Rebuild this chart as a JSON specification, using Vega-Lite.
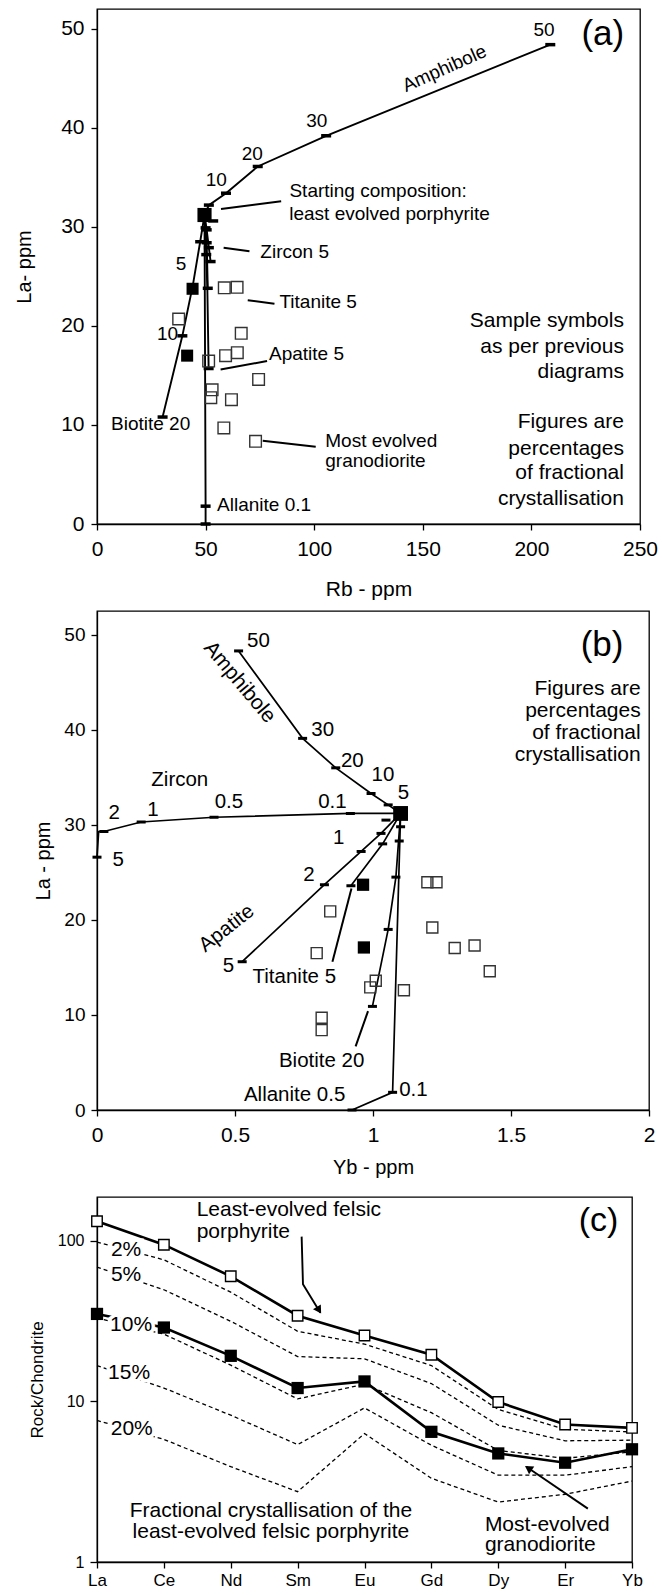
{
"$schema": "https://vega.github.io/schema/vega-lite/v6.json",
"background": "white",
"padding": {"left": 13, "top": 8, "right": 5, "bottom": 2},
"autosize": {"type": "pad"},
"bounds": "flush",
"spacing": 87,
"config": {
 "font": "Liberation Sans",
 "view": {"stroke": "black", "strokeWidth": 1.3},
 "axis": {"grid": false, "domainColor": "black", "tickColor": "black", "labelColor": "black", "titleColor": "black", "titleFontWeight": "normal", "labelFont": "Liberation Sans", "titleFont": "Liberation Sans", "tickSize": 6, "domainWidth": 1.3, "tickWidth": 1.3, "labelOverlap": false},
 "text": {"font": "Liberation Sans", "color": "black"}
},
"datasets": {
 "a_lines": [
  {"m":"amph","o":0,"x":49.5,"y":31.2},{"m":"amph","o":1,"x":51.5,"y":32.2},{"m":"amph","o":2,"x":59.4,"y":33.4},{"m":"amph","o":3,"x":74,"y":36.1},{"m":"amph","o":4,"x":105.5,"y":39.2},{"m":"amph","o":5,"x":208.7,"y":48.4},
  {"m":"biot","o":0,"x":49.5,"y":31.2},{"m":"biot","o":1,"x":47.5,"y":28.5},{"m":"biot","o":2,"x":44.2,"y":24.2},{"m":"biot","o":3,"x":39.3,"y":19.0},{"m":"biot","o":4,"x":30.2,"y":10.8},
  {"m":"zirc","o":0,"x":49.5,"y":31.2},{"m":"zirc","o":1,"x":50.5,"y":29.7},{"m":"zirc","o":2,"x":51.5,"y":27.9},{"m":"zirc","o":3,"x":52.3,"y":26.5},
  {"m":"tita","o":0,"x":49.5,"y":31.2},{"m":"tita","o":1,"x":50.5,"y":28.4},{"m":"tita","o":2,"x":51.0,"y":23.8},
  {"m":"apat","o":0,"x":49.5,"y":31.2},{"m":"apat","o":1,"x":50.3,"y":27.2},{"m":"apat","o":2,"x":50.8,"y":23.8},{"m":"apat","o":3,"x":51.4,"y":15.7},
  {"m":"alla","o":0,"x":49.5,"y":31.2},{"m":"alla","o":1,"x":50,"y":1.8},{"m":"alla","o":2,"x":50,"y":0}
 ],
 "a_ticks": [
  {"x":51.5,"y":32.2},{"x":59.4,"y":33.4},{"x":74,"y":36.1},{"x":105.5,"y":39.2},{"x":208.7,"y":48.4},
  {"x":47.5,"y":28.5},{"x":39.3,"y":19.0},{"x":30.2,"y":10.8},
  {"x":50.5,"y":29.7},{"x":51.5,"y":27.9},{"x":52.3,"y":26.5},
  {"x":50.5,"y":28.4},{"x":51.0,"y":23.8},{"x":50.3,"y":27.2},{"x":51.4,"y":15.7},
  {"x":50,"y":29.9},{"x":50,"y":1.8},{"x":50,"y":0},{"x":53.5,"y":30.6}
 ],
 "a_lead": [
  {"id":"start","o":0,"x":57.1,"y":31.8},{"id":"start","o":1,"x":84.8,"y":32.6},
  {"id":"zirc","o":0,"x":58.3,"y":27.9},{"id":"zirc","o":1,"x":70.2,"y":27.55},
  {"id":"tita","o":0,"x":69.4,"y":22.6},{"id":"tita","o":1,"x":81.7,"y":22.24},
  {"id":"apat","o":0,"x":56.9,"y":15.6},{"id":"apat","o":1,"x":78.3,"y":16.45},
  {"id":"most","o":0,"x":76.3,"y":8.4},{"id":"most","o":1,"x":100.7,"y":7.8}
 ],
 "a_samp": [
  {"t":"open","x":58.6,"y":23.85},{"t":"open","x":64.5,"y":23.9},{"t":"open","x":37.6,"y":20.7},{"t":"open","x":66.4,"y":19.25},
  {"t":"open","x":59.2,"y":17.0},{"t":"open","x":64.6,"y":17.3},{"t":"open","x":51.4,"y":16.45},{"t":"open","x":74.4,"y":14.6},
  {"t":"open","x":53.0,"y":13.55},{"t":"open","x":52.4,"y":12.75},{"t":"open","x":61.9,"y":12.55},{"t":"open","x":58.4,"y":9.7},{"t":"open","x":73.0,"y":8.35},
  {"t":"filled","x":44.0,"y":23.75},{"t":"filled","x":41.5,"y":17.0},
  {"t":"start","x":49.5,"y":31.2}
 ],
 "a_txtL": [
  {"s":"Starting composition:","x":88.6,"y":33.65},
  {"s":"least evolved porphyrite","x":88.5,"y":31.3},
  {"s":"Zircon 5","x":75.2,"y":27.45},
  {"s":"Titanite 5","x":84.0,"y":22.4},
  {"s":"Apatite 5","x":79.2,"y":17.2},
  {"s":"Most evolved","x":105.1,"y":8.4},
  {"s":"granodiorite","x":105.1,"y":6.4},
  {"s":"Allanite 0.1","x":55.3,"y":1.9}
 ],
 "a_txtC": [
  {"s":"10","x":54.9,"y":34.7},{"s":"20","x":71.5,"y":37.4},{"s":"30","x":101.2,"y":40.7},{"s":"50","x":205.8,"y":49.9},
  {"s":"5","x":38.7,"y":26.3},{"s":"10","x":32.5,"y":19.2},{"s":"Biotite 20","x":24.7,"y":10.1}
 ],
 "a_txtR": [
  {"s":"Sample symbols","x":242.6,"y":20.5},{"s":"as per previous","x":242.6,"y":17.9},{"s":"diagrams","x":242.6,"y":15.3},
  {"s":"Figures are","x":242.6,"y":10.3},{"s":"percentages","x":242.6,"y":7.6},{"s":"of fractional","x":242.6,"y":5.1},{"s":"crystallisation","x":242.6,"y":2.5}
 ],
 "a_rot": [{"s":"Amphibole","x":160,"y":46.0}],
 "a_tag": [{"s":"(a)","x":232.9,"y":49.5}],
 "b_lines": [
  {"m":"amph","o":0,"x":1.1,"y":31.2},{"m":"amph","o":1,"x":1.055,"y":32.1},{"m":"amph","o":2,"x":0.993,"y":33.3},{"m":"amph","o":3,"x":0.865,"y":36.0},{"m":"amph","o":4,"x":0.745,"y":39.1},{"m":"amph","o":5,"x":0.513,"y":48.3},
  {"m":"zirc","o":0,"x":1.1,"y":31.2},{"m":"zirc","o":1,"x":0.918,"y":31.2},{"m":"zirc","o":2,"x":0.424,"y":30.8},{"m":"zirc","o":3,"x":0.16,"y":30.3},{"m":"zirc","o":4,"x":0.025,"y":29.3},{"m":"zirc","o":5,"x":0.006,"y":29.3},{"m":"zirc","o":6,"x":0.0,"y":26.6},
  {"m":"apat","o":0,"x":1.1,"y":31.2},{"m":"apat","o":1,"x":1.029,"y":29.1},{"m":"apat","o":2,"x":0.957,"y":27.2},{"m":"apat","o":3,"x":0.824,"y":23.7},{"m":"apat","o":4,"x":0.526,"y":15.6},
  {"m":"tita","o":0,"x":1.1,"y":31.2},{"m":"tita","o":1,"x":1.035,"y":28.0},{"m":"tita","o":2,"x":0.92,"y":23.6},
  {"m":"biot","o":0,"x":1.1,"y":31.2},{"m":"biot","o":1,"x":1.083,"y":24.5},{"m":"biot","o":2,"x":1.055,"y":19.0},{"m":"biot","o":3,"x":0.998,"y":10.9},
  {"m":"alla","o":0,"x":1.1,"y":31.2},{"m":"alla","o":1,"x":1.071,"y":1.86},{"m":"alla","o":2,"x":0.924,"y":0}
 ],
 "b_ticks": [
  {"x":1.055,"y":32.1},{"x":0.993,"y":33.3},{"x":0.865,"y":36.0},{"x":0.745,"y":39.1},{"x":0.513,"y":48.3},
  {"x":0.918,"y":31.2},{"x":0.424,"y":30.8},{"x":0.16,"y":30.3},{"x":0.025,"y":29.3},{"x":0.0,"y":26.6},
  {"x":1.047,"y":30.5},{"x":1.029,"y":29.1},{"x":0.957,"y":27.2},{"x":0.824,"y":23.7},{"x":0.526,"y":15.6},
  {"x":1.035,"y":28.0},{"x":0.92,"y":23.6},
  {"x":1.095,"y":28.3},{"x":1.083,"y":24.5},{"x":1.055,"y":19.0},{"x":0.998,"y":10.9},
  {"x":1.10,"y":29.8},{"x":1.071,"y":1.86},{"x":0.924,"y":0}
 ],
 "b_lead": [
  {"id":"tita","o":0,"x":0.922,"y":23.3},{"id":"tita","o":1,"x":0.853,"y":15.6},
  {"id":"biot","o":0,"x":0.982,"y":10.4},{"id":"biot","o":1,"x":0.937,"y":6.7}
 ],
 "b_samp": [
  {"t":"open","x":0.845,"y":20.9},{"t":"open","x":1.197,"y":23.96},{"t":"open","x":1.23,"y":23.96},{"t":"open","x":1.215,"y":19.2},
  {"t":"open","x":0.796,"y":16.5},{"t":"open","x":1.296,"y":17.05},{"t":"open","x":1.368,"y":17.3},{"t":"open","x":1.423,"y":14.6},
  {"t":"open","x":0.99,"y":12.9},{"t":"open","x":1.01,"y":13.6},{"t":"open","x":1.112,"y":12.6},{"t":"open","x":0.814,"y":9.7},{"t":"open","x":0.814,"y":8.4},
  {"t":"filled","x":0.964,"y":23.7},{"t":"filled","x":0.967,"y":17.1},
  {"t":"start","x":1.1,"y":31.2}
 ],
 "b_txtC": [
  {"s":"Zircon","x":0.30,"y":34.7},{"s":"2","x":0.062,"y":31.3},{"s":"1","x":0.203,"y":31.6},{"s":"0.5","x":0.478,"y":32.4},{"s":"0.1","x":0.853,"y":32.4},
  {"s":"5","x":0.077,"y":26.3},{"s":"5","x":1.11,"y":33.3},{"s":"10","x":1.036,"y":35.2},{"s":"20","x":0.925,"y":36.7},{"s":"30","x":0.818,"y":40.0},{"s":"50","x":0.585,"y":49.3},
  {"s":"1","x":0.876,"y":28.6},{"s":"2","x":0.768,"y":24.7},{"s":"5","x":0.476,"y":15.2},
  {"s":"Titanite 5","x":0.715,"y":14.0},{"s":"Biotite 20","x":0.814,"y":5.2},{"s":"Allanite 0.5","x":0.716,"y":1.58}
 ],
 "b_txtL": [{"s":"0.1","x":1.095,"y":2.1}],
 "b_txtR": [
  {"s":"Figures are","x":1.97,"y":44.3},{"s":"percentages","x":1.97,"y":42.0},{"s":"of fractional","x":1.97,"y":39.7},{"s":"crystallisation","x":1.97,"y":37.4}
 ],
 "b_amph": [{"s":"Amphibole","x":0.516,"y":45.0}],
 "b_apat": [{"s":"Apatite","x":0.47,"y":19.1}],
 "b_tag": [{"s":"(b)","x":1.83,"y":48.9}],
 "c_lines": [
  {"s":"least","el":"La","i":0,"v":132},{"s":"least","el":"Ce","i":1,"v":94.4},{"s":"least","el":"Nd","i":2,"v":60},{"s":"least","el":"Sm","i":3,"v":34.1},{"s":"least","el":"Eu","i":4,"v":25.7},{"s":"least","el":"Gd","i":5,"v":19.5},{"s":"least","el":"Dy","i":6,"v":9.9},{"s":"least","el":"Er","i":7,"v":7.17},{"s":"least","el":"Yb","i":8,"v":6.84},
  {"s":"most","el":"La","i":0,"v":35},{"s":"most","el":"Ce","i":1,"v":28.8},{"s":"most","el":"Nd","i":2,"v":19.2},{"s":"most","el":"Sm","i":3,"v":12.1},{"s":"most","el":"Eu","i":4,"v":13.3},{"s":"most","el":"Gd","i":5,"v":6.46},{"s":"most","el":"Dy","i":6,"v":4.74},{"s":"most","el":"Er","i":7,"v":4.15},{"s":"most","el":"Yb","i":8,"v":5.03}
 ],
 "c_dash": [
  {"s":"2%","i":0,"v":98},{"s":"2%","i":1,"v":76},{"s":"2%","i":2,"v":47.8},{"s":"2%","i":3,"v":27.3},{"s":"2%","i":4,"v":22.7},{"s":"2%","i":5,"v":16.7},{"s":"2%","i":6,"v":8.9},{"s":"2%","i":7,"v":6.7},{"s":"2%","i":8,"v":6.45},
  {"s":"5%","i":0,"v":68.5},{"s":"5%","i":1,"v":49.5},{"s":"5%","i":2,"v":31.5},{"s":"5%","i":3,"v":19.0},{"s":"5%","i":4,"v":18.4},{"s":"5%","i":5,"v":12.9},{"s":"5%","i":6,"v":7.1},{"s":"5%","i":7,"v":5.68},{"s":"5%","i":8,"v":5.73},
  {"s":"10%","i":0,"v":33},{"s":"10%","i":1,"v":26.2},{"s":"10%","i":2,"v":16.8},{"s":"10%","i":3,"v":10.35},{"s":"10%","i":4,"v":12.8},{"s":"10%","i":5,"v":8.5},{"s":"10%","i":6,"v":4.95},{"s":"10%","i":7,"v":4.42},{"s":"10%","i":8,"v":4.85},
  {"s":"15%","i":0,"v":16.7},{"s":"15%","i":1,"v":12.1},{"s":"15%","i":2,"v":8.2},{"s":"15%","i":3,"v":5.38},{"s":"15%","i":4,"v":9.1},{"s":"15%","i":5,"v":5.33},{"s":"15%","i":6,"v":3.47},{"s":"15%","i":7,"v":3.47},{"s":"15%","i":8,"v":3.92},
  {"s":"20%","i":0,"v":7.6},{"s":"20%","i":1,"v":5.8},{"s":"20%","i":2,"v":3.92},{"s":"20%","i":3,"v":2.74},{"s":"20%","i":4,"v":6.3},{"s":"20%","i":5,"v":3.32},{"s":"20%","i":6,"v":2.36},{"s":"20%","i":7,"v":2.64},{"s":"20%","i":8,"v":3.19}
 ],
 "c_pct": [
  {"s":"2%","i":0.435,"v":88},{"s":"5%","i":0.435,"v":60.8},{"s":"10%","i":0.51,"v":30},{"s":"15%","i":0.48,"v":15.1},{"s":"20%","i":0.52,"v":6.7}
 ],
 "c_arrow": [
  {"id":"least","o":0,"i":3.06,"v":106},{"id":"least","o":1,"i":3.08,"v":53.5},{"id":"least","o":2,"i":3.34,"v":35.6},
  {"id":"most","o":0,"i":7.34,"v":2.15},{"id":"most","o":1,"i":6.42,"v":3.92}
 ],
 "c_head": [
  {"id":"least","i":3.32,"v":36.9},
  {"id":"most","i":6.45,"v":3.84}
 ],
 "c_txtL": [
  {"s":"Least-evolved felsic","i":1.49,"v":156},{"s":"porphyrite","i":1.49,"v":114},
  {"s":"Most-evolved","i":5.8,"v":1.69},{"s":"granodiorite","i":5.8,"v":1.27}
 ],
 "c_txtC": [
  {"s":"Fractional crystallisation of the","i":2.6,"v":2.07},{"s":"least-evolved felsic porphyrite","i":2.6,"v":1.54}
 ],
 "c_tag": [{"s":"(c)","i":7.5,"v":132}]
},
"vconcat": [
 {
  "width": 543, "height": 515,
  "encoding": {
   "x": {"field":"x","type":"quantitative","scale":{"domain":[0,250],"nice":false,"zero":false},
         "axis":{"title":"Rb - ppm","values":[0,50,100,150,200,250],"labelFontSize":21,"titleFontSize":21,"labelPadding":8,"titlePadding":19,"labelFlush":false}},
   "y": {"field":"y","type":"quantitative","scale":{"domain":[0,52],"nice":false,"zero":false},
         "axis":{"title":"La- ppm","values":[0,10,20,30,40,50],"labelFontSize":21,"titleFontSize":20,"labelPadding":7,"titleX":-73,"titleBaseline":"middle"}}
  },
  "layer": [
   {"data":{"name":"a_lines"},"mark":{"type":"line","color":"black","strokeWidth":1.9},"encoding":{"detail":{"field":"m"},"order":{"field":"o"}}},
   {"data":{"name":"a_lead"},"mark":{"type":"line","color":"black","strokeWidth":2},"encoding":{"detail":{"field":"id"},"order":{"field":"o"}}},
   {"data":{"name":"a_ticks"},"mark":{"type":"tick","orient":"horizontal","size":10,"thickness":3.5,"color":"black","opacity":1}},
   {"data":{"name":"a_samp"},"transform":[{"filter":"datum.t == 'open'"}],"mark":{"type":"point","shape":"square","filled":false,"color":"#333","strokeWidth":1.4,"size":135,"opacity":1}},
   {"data":{"name":"a_samp"},"transform":[{"filter":"datum.t == 'filled'"}],"mark":{"type":"point","shape":"square","filled":true,"color":"black","size":145,"opacity":1}},
   {"data":{"name":"a_samp"},"transform":[{"filter":"datum.t == 'start'"}],"mark":{"type":"point","shape":"square","filled":true,"color":"black","size":200,"opacity":1}},
   {"data":{"name":"a_txtL"},"mark":{"type":"text","align":"left","baseline":"middle","fontSize":19},"encoding":{"text":{"field":"s"}}},
   {"data":{"name":"a_txtC"},"mark":{"type":"text","align":"center","baseline":"middle","fontSize":19},"encoding":{"text":{"field":"s"}}},
   {"data":{"name":"a_txtR"},"mark":{"type":"text","align":"right","baseline":"middle","fontSize":21},"encoding":{"text":{"field":"s"}}},
   {"data":{"name":"a_rot"},"mark":{"type":"text","align":"center","baseline":"middle","fontSize":19,"angle":336},"encoding":{"text":{"field":"s"}}},
   {"data":{"name":"a_tag"},"mark":{"type":"text","align":"center","baseline":"middle","fontSize":35},"encoding":{"text":{"field":"s"}}}
  ]
 },
 {
  "width": 552, "height": 499,
  "encoding": {
   "x": {"field":"x","type":"quantitative","scale":{"domain":[0,2],"nice":false,"zero":false},
         "axis":{"title":"Yb - ppm","values":[0,0.5,1,1.5,2],"format":"~g","labelFontSize":21,"titleFontSize":20,"labelPadding":8,"titlePadding":12,"labelFlush":false}},
   "y": {"field":"y","type":"quantitative","scale":{"domain":[0,52.5],"nice":false,"zero":false},
         "axis":{"title":"La - ppm","values":[0,10,20,30,40,50],"labelFontSize":19,"titleFontSize":20,"labelPadding":6,"titleX":-54,"titleBaseline":"middle"}}
  },
  "layer": [
   {"data":{"name":"b_lines"},"mark":{"type":"line","color":"black","strokeWidth":1.7},"encoding":{"detail":{"field":"m"},"order":{"field":"o"}}},
   {"data":{"name":"b_lead"},"mark":{"type":"line","color":"black","strokeWidth":2},"encoding":{"detail":{"field":"id"},"order":{"field":"o"}}},
   {"data":{"name":"b_ticks"},"mark":{"type":"tick","orient":"horizontal","size":9,"thickness":3,"color":"black","opacity":1}},
   {"data":{"name":"b_samp"},"transform":[{"filter":"datum.t == 'open'"}],"mark":{"type":"point","shape":"square","filled":false,"color":"#333","strokeWidth":1.4,"size":121,"opacity":1}},
   {"data":{"name":"b_samp"},"transform":[{"filter":"datum.t == 'filled'"}],"mark":{"type":"point","shape":"square","filled":true,"color":"black","size":150,"opacity":1}},
   {"data":{"name":"b_samp"},"transform":[{"filter":"datum.t == 'start'"}],"mark":{"type":"point","shape":"square","filled":true,"color":"black","size":220,"opacity":1}},
   {"data":{"name":"b_txtC"},"mark":{"type":"text","align":"center","baseline":"middle","fontSize":20.5},"encoding":{"text":{"field":"s"}}},
   {"data":{"name":"b_txtL"},"mark":{"type":"text","align":"left","baseline":"middle","fontSize":20.5},"encoding":{"text":{"field":"s"}}},
   {"data":{"name":"b_txtR"},"mark":{"type":"text","align":"right","baseline":"middle","fontSize":21},"encoding":{"text":{"field":"s"}}},
   {"data":{"name":"b_amph"},"mark":{"type":"text","align":"center","baseline":"middle","fontSize":21,"angle":50},"encoding":{"text":{"field":"s"}}},
   {"data":{"name":"b_apat"},"mark":{"type":"text","align":"center","baseline":"middle","fontSize":20.5,"angle":322},"encoding":{"text":{"field":"s"}}},
   {"data":{"name":"b_tag"},"mark":{"type":"text","align":"center","baseline":"middle","fontSize":35},"encoding":{"text":{"field":"s"}}}
  ]
 },
 {
  "width": 535, "height": 365,
  "encoding": {
   "x": {"field":"i","type":"quantitative","scale":{"domain":[0,8],"nice":false,"zero":false},
         "axis":{"title":null,"values":[0,1,2,3,4,5,6,7,8],"labelExpr":"['La','Ce','Nd','Sm','Eu','Gd','Dy','Er','Yb'][datum.value]","labelFontSize":17,"labelPadding":4,"tickSize":6,"labelFlush":false}},
   "y": {"field":"v","type":"quantitative","scale":{"type":"log","domain":[1,187],"nice":false,"zero":false},
         "axis":{"title":"Rock/Chondrite","values":[1,10,100],"format":"~g","labelFontSize":16,"titleFontSize":17,"tickSize":7,"labelPadding":6,"titleX":-60,"titleBaseline":"middle"}}
  },
  "layer": [
   {"data":{"name":"c_dash"},"mark":{"type":"line","color":"black","strokeWidth":1.3,"strokeDash":[4,3]},"encoding":{"detail":{"field":"s"},"order":{"field":"i"}}},
   {"data":{"name":"c_lines"},"mark":{"type":"line","color":"black","strokeWidth":2.6},"encoding":{"detail":{"field":"s"},"order":{"field":"i"}}},
   {"data":{"name":"c_pct"},"mark":{"type":"text","align":"center","baseline":"middle","fontSize":21,"color":"white","stroke":"white","strokeWidth":7},"encoding":{"text":{"field":"s"}}},
   {"data":{"name":"c_pct"},"mark":{"type":"text","align":"center","baseline":"middle","fontSize":21},"encoding":{"text":{"field":"s"}}},
   {"data":{"name":"c_lines"},"transform":[{"filter":"datum.s == 'least'"}],"mark":{"type":"point","shape":"square","filled":true,"fill":"white","stroke":"black","strokeWidth":1.4,"size":110,"opacity":1}},
   {"data":{"name":"c_lines"},"transform":[{"filter":"datum.s == 'most'"}],"mark":{"type":"point","shape":"square","filled":true,"color":"black","size":150,"opacity":1}},
   {"data":{"name":"c_arrow"},"mark":{"type":"line","color":"black","strokeWidth":1.9},"encoding":{"detail":{"field":"id"},"order":{"field":"o"}}},
   {"data":{"name":"c_head"},"transform":[{"filter":"datum.id == 'least'"}],"mark":{"type":"point","shape":"triangle-up","filled":true,"color":"black","size":85,"angle":148,"opacity":1}},
   {"data":{"name":"c_head"},"transform":[{"filter":"datum.id == 'most'"}],"mark":{"type":"point","shape":"triangle-up","filled":true,"color":"black","size":85,"angle":304,"opacity":1}},
   {"data":{"name":"c_txtL"},"mark":{"type":"text","align":"left","baseline":"middle","fontSize":21},"encoding":{"text":{"field":"s"}}},
   {"data":{"name":"c_txtC"},"mark":{"type":"text","align":"center","baseline":"middle","fontSize":21},"encoding":{"text":{"field":"s"}}},
   {"data":{"name":"c_tag"},"mark":{"type":"text","align":"center","baseline":"middle","fontSize":34},"encoding":{"text":{"field":"s"}}}
  ]
 }
]
}
